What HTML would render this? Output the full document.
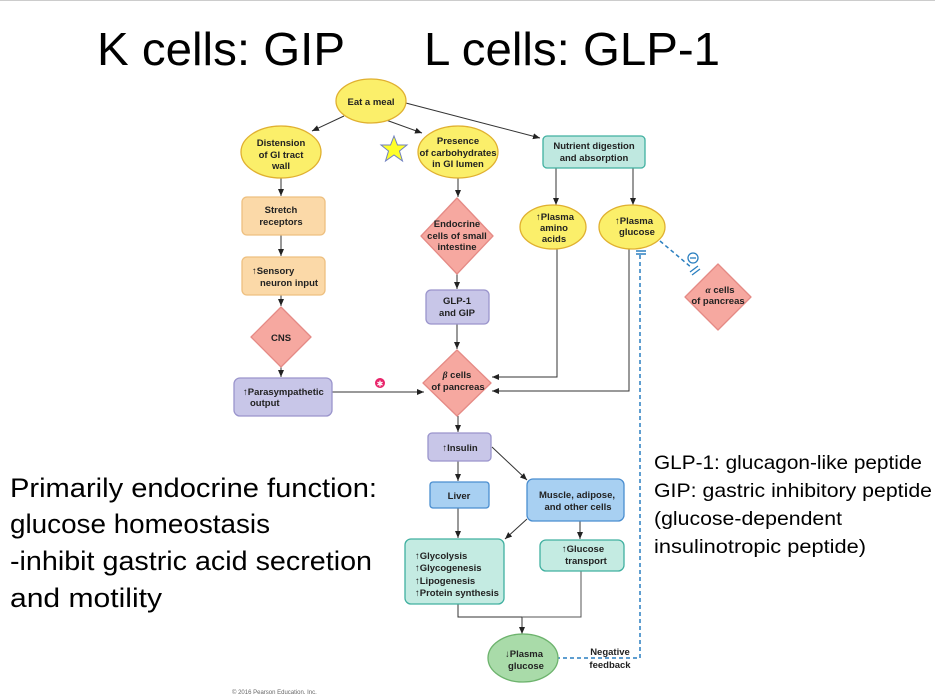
<!DOCTYPE html>
<html><head><style>
body{margin:0;background:#fff;}
svg{display:block;font-family:"Liberation Sans",Arial,sans-serif;}
.n{font-size:9.5px;font-weight:bold;fill:#222;text-anchor:middle;}
.l{font-size:9.5px;font-weight:bold;fill:#222;}
</style></head><body>
<svg width="935" height="694" viewBox="0 0 935 694" xmlns="http://www.w3.org/2000/svg">
<defs><marker id="a" markerWidth="8" markerHeight="8" refX="7" refY="4" orient="auto" markerUnits="userSpaceOnUse"><path d="M0,1 L7,4 L0,7 Z" fill="#222"/></marker></defs>
<line x1="0" y1="0.5" x2="935" y2="0.5" stroke="#ccc"/>
<text x="97" y="65" font-size="46" fill="#000" textLength="248" lengthAdjust="spacingAndGlyphs">K cells: GIP</text>
<text x="424" y="65" font-size="46" fill="#000" textLength="296" lengthAdjust="spacingAndGlyphs">L cells: GLP-1</text>

<g stroke="#333" stroke-width="1" fill="none" marker-end="url(#a)">
<line x1="344" y1="116" x2="312" y2="131"/>
<line x1="386" y1="120" x2="422" y2="133"/>
<line x1="402" y1="102" x2="540" y2="138"/>
<line x1="281" y1="178" x2="281" y2="196"/>
<line x1="281" y1="235" x2="281" y2="256"/>
<line x1="281" y1="295" x2="281" y2="306"/>
<line x1="281" y1="367" x2="281" y2="377"/>
<line x1="458" y1="178" x2="458" y2="197"/>
<line x1="457" y1="274" x2="457" y2="289"/>
<line x1="457" y1="324" x2="457" y2="349"/>
<line x1="556" y1="168" x2="556" y2="205"/>
<line x1="633" y1="168" x2="633" y2="205"/>
<polyline points="557,249 557,377 492,377"/>
<polyline points="629,249 629,391 492,391"/>
<line x1="332" y1="392" x2="424" y2="392"/>
<line x1="458" y1="416" x2="458" y2="432"/>
<line x1="458" y1="461" x2="458" y2="481"/>
<line x1="492" y1="447" x2="527" y2="480"/>
<line x1="458" y1="508" x2="458" y2="538"/>
<line x1="527" y1="519" x2="505" y2="539"/>
<line x1="580" y1="521" x2="580" y2="539"/>
<polyline points="458,604 458,617 522,617 522,634" />
</g>
<polyline points="581,571 581,617 522,617" stroke="#555" fill="none"/>

<g stroke="#2a7fc0" stroke-width="1.5" fill="none" stroke-dasharray="4,3">
<polyline points="640,255 640,658 558,658"/>
<line x1="660" y1="241" x2="692" y2="268"/>
</g>
<line x1="636" y1="251" x2="646" y2="251" stroke="#2a7fc0" stroke-width="1.5"/>
<line x1="636" y1="254" x2="646" y2="254" stroke="#2a7fc0" stroke-width="1.5"/>
<circle cx="693" cy="258" r="5" fill="#fff" stroke="#2a7fc0" stroke-width="1.3"/>
<line x1="690" y1="258" x2="696" y2="258" stroke="#2a7fc0" stroke-width="1.3"/>
<line x1="690" y1="272" x2="698" y2="266" stroke="#2a7fc0" stroke-width="1.3"/>
<line x1="692" y1="275" x2="700" y2="269" stroke="#2a7fc0" stroke-width="1.3"/>

<g stroke="#e0b030" stroke-width="1.3" fill="#fbef6a">
<ellipse cx="371" cy="101" rx="35" ry="22"/>
<ellipse cx="281" cy="152" rx="40" ry="26"/>
<ellipse cx="458" cy="152" rx="40" ry="26"/>
<ellipse cx="553" cy="227" rx="33" ry="22"/>
<ellipse cx="632" cy="227" rx="33" ry="22"/>
</g>
<ellipse cx="523" cy="658" rx="35" ry="24" fill="#a9dba9" stroke="#6db36d" stroke-width="1.3"/>
<polygon points="394,136 397.5,145 407,145 399.5,151 402.5,161 394,155 385.5,161 388.5,151 381,145 390.5,145" fill="#ffff2a" stroke="#7080c0" stroke-width="1"/>

<g stroke-width="1.3">
<rect x="543" y="136" width="102" height="32" rx="4" fill="#bfe8e0" stroke="#40b0a0"/>
<rect x="242" y="197" width="83" height="38" rx="5" fill="#fbd9a8" stroke="#eec080"/>
<rect x="242" y="257" width="83" height="38" rx="5" fill="#fbd9a8" stroke="#eec080"/>
<rect x="234" y="378" width="98" height="38" rx="6" fill="#c8c6e8" stroke="#9a94cc"/>
<rect x="426" y="290" width="63" height="34" rx="5" fill="#c8c6e8" stroke="#9a94cc"/>
<rect x="428" y="433" width="63" height="28" rx="4" fill="#c8c6e8" stroke="#9a94cc"/>
<rect x="430" y="482" width="59" height="26" rx="3" fill="#a8d0f2" stroke="#4a8ed0"/>
<rect x="527" y="479" width="97" height="42" rx="6" fill="#a8d0f2" stroke="#4a8ed0"/>
<rect x="405" y="539" width="99" height="65" rx="6" fill="#c4ebe2" stroke="#40b0a0"/>
<rect x="540" y="540" width="84" height="31" rx="6" fill="#c4ebe2" stroke="#40b0a0"/>
</g>
<g fill="#f6a8a0" stroke="#e58a85" stroke-width="1.3" stroke-linejoin="round">
<polygon points="281,307 311,337 281,367 251,337"/>
<polygon points="457,198 493,236 457,274 421,236"/>
<polygon points="457,350 491,383 457,416 423,383"/>
<polygon points="718,264 751,297 718,330 685,297"/>
</g>
<circle cx="380" cy="383" r="5" fill="#e8246a"/>
<text x="380" y="386.5" font-size="8" fill="#fff" text-anchor="middle">✱</text>

<text class="n" x="371" y="105">Eat a meal</text>
<text class="n"><tspan x="281" y="146">Distension</tspan><tspan x="281" y="158">of GI tract</tspan><tspan x="281" y="169">wall</tspan></text>
<text class="n" font-size="9"><tspan x="458" y="144">Presence</tspan><tspan x="458" y="156">of carbohydrates</tspan><tspan x="458" y="167">in GI lumen</tspan></text>
<text class="n"><tspan x="594" y="149">Nutrient digestion</tspan><tspan x="594" y="161">and absorption</tspan></text>
<text class="n"><tspan x="281" y="213">Stretch</tspan><tspan x="281" y="225">receptors</tspan></text>
<text class="l"><tspan x="252" y="274">↑Sensory</tspan><tspan x="260" y="286">neuron input</tspan></text>
<text class="n" x="281" y="341">CNS</text>
<text class="l"><tspan x="243" y="395">↑Parasympathetic</tspan><tspan x="250" y="406">output</tspan></text>
<text class="n"><tspan x="457" y="227">Endocrine</tspan><tspan x="457" y="239">cells of small</tspan><tspan x="457" y="250">intestine</tspan></text>
<text class="n"><tspan x="457" y="304">GLP-1</tspan><tspan x="457" y="316">and GIP</tspan></text>
<text class="n"><tspan x="555" y="220">↑Plasma</tspan><tspan x="554" y="231">amino</tspan><tspan x="554" y="242">acids</tspan></text>
<text class="n"><tspan x="634" y="224">↑Plasma</tspan><tspan x="637" y="235">glucose</tspan></text>
<text class="n"><tspan x="720" y="293"><tspan font-style="italic" font-family="Liberation Serif">α</tspan> cells</tspan><tspan x="718" y="304">of pancreas</tspan></text>
<text class="n"><tspan x="457" y="378"><tspan font-style="italic" font-family="Liberation Serif">β</tspan> cells</tspan><tspan x="458" y="390">of pancreas</tspan></text>
<text class="n" x="460" y="451">↑Insulin</text>
<text class="n" x="459" y="499">Liver</text>
<text class="n"><tspan x="577" y="498">Muscle, adipose,</tspan><tspan x="578" y="510">and other cells</tspan></text>
<text class="l" font-size="9"><tspan x="415" y="559">↑Glycolysis</tspan><tspan x="415" y="571">↑Glycogenesis</tspan><tspan x="415" y="584">↑Lipogenesis</tspan><tspan x="415" y="596">↑Protein synthesis</tspan></text>
<text class="n"><tspan x="583" y="552">↑Glucose</tspan><tspan x="586" y="564">transport</tspan></text>
<text class="n"><tspan x="524" y="657">↓Plasma</tspan><tspan x="526" y="669">glucose</tspan></text>
<text class="n" font-size="9"><tspan x="610" y="655">Negative</tspan><tspan x="610" y="668">feedback</tspan></text>

<g font-size="27" fill="#000" lengthAdjust="spacingAndGlyphs">
<text x="10" y="497" textLength="367" lengthAdjust="spacingAndGlyphs">Primarily endocrine function:</text>
<text x="10" y="533" textLength="260" lengthAdjust="spacingAndGlyphs">glucose homeostasis</text>
<text x="10" y="570" textLength="362" lengthAdjust="spacingAndGlyphs">-inhibit gastric acid secretion</text>
<text x="10" y="607" textLength="152" lengthAdjust="spacingAndGlyphs">and motility</text>
</g>
<g font-size="19.5" fill="#000">
<text x="654" y="469" textLength="268" lengthAdjust="spacingAndGlyphs">GLP-1: glucagon-like peptide</text>
<text x="654" y="497" textLength="278" lengthAdjust="spacingAndGlyphs">GIP: gastric inhibitory peptide</text>
<text x="654" y="525" textLength="188" lengthAdjust="spacingAndGlyphs">(glucose-dependent</text>
<text x="654" y="553" textLength="212" lengthAdjust="spacingAndGlyphs">insulinotropic peptide)</text>
</g>
<text x="232" y="694" font-size="6" fill="#666">© 2016 Pearson Education, Inc.</text>
</svg>
</body></html>
